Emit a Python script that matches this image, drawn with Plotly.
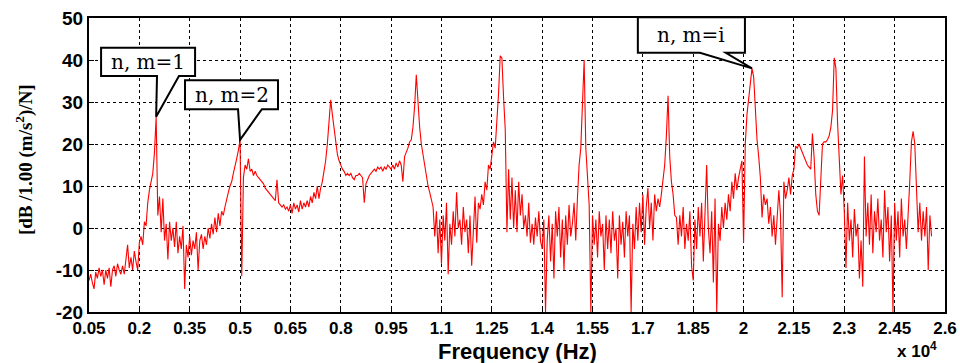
import numpy as np
import plotly.graph_objects as go

# Frequency grid (x 10^4 Hz): uniform sampling
freq_start = 0.05
freq_step = 0.005

# Amplitude [dB], rows of 10 samples (0.05 x 10^4 Hz per row)
amp_band_a = [  # 0.05 - 0.545
    -12.5, -11, -13, -14.5, -10.5, -12, -9.5, -11.5, -10, -13.5,
    -10, -12, -9.5, -14, -10, -9, -11.5, -8.5, -10, -11,
    -9, -11, -7.5, -4, -9.5, -7, -10, -5.5, -8, -10,
    -3.5, -2, -4, 1.5, 0.5, 6, 9, 11, 13, 18,
    26.5, 3, 7.5, -1, 7, -3, 1, -7.5, 1.5, -3,
    0, -4.5, 1.5, -6, -2, -5, 0.5, -14.5, -4, -7,
    -2, -6.5, -3, -5, -1, -10, -3, -1.5, -5, -2,
    -4, 0, -2.5, 1, -1.5, 2.5, -1, 3.5, 0.5, 4,
    3, 5, 7, 8.5, 10, 11, 13, 14.5, 16.5, 18.5,
    21, -11.5, 12, 15, 14, 16.5, 13.5, 14, 12.5, 13.5,
]
amp_band_b = [  # 0.55 - 1.045
    12.5, 12, 11.5, 11, 10.5, 9.5, 9, 8.5, 8, 7.5,
    7, 6.5, 11.5, 6, 5.5, 5, 5.5, 4.5, 5, 4,
    5.5, 3.5, 6, 4.5, 5.5, 3.8, 6.5, 4.5, 6, 5,
    6.5, 5, 7.5, 6, 8.5, 7, 10, 7, 9.5, 11,
    13.5, 16, 20, 25, 30.5, 27, 24, 20, 17.5, 16,
    15, 14, 13.5, 12.5, 13, 12.5, 13, 12, 11.5, 12.5,
    12.5, 13, 12.5, 12, 6, 10.5, 11.5, 12.5, 13, 13.5,
    14, 13.5, 14.5, 14, 14.5, 13.5, 14.5, 14, 15, 14.5,
    14, 15, 14, 15.5, 14.5, 16, 15, 11, 17, 18,
    19, 20.5, 21, 24, 29, 36.5, 30, 24, 20, 17.5,
]
amp_band_c = [  # 1.05 - 1.545
    14, 12, 10, 8.5, 7, 5, -2, 4, -6, 2,
    -8.5, 3, -3, 6, -11, 1, -4, 4, -2, 8.5,
    0, 2, -4, 5, -1, 2, -6, 3, -9, 1,
    7.5, -3.5, 6, 4.5, 8, 5.5, 11, 9, 15, 14,
    17.5, 20.5, 19, 25, 32, 41, 40.5, 31, 23.5, -1,
    14, 2, 12, 0, 9, -1, 11, 3, 8, 0,
    3, -2, 6, -3.5, 1, -4, 2.5, -2, 4, -3,
    -5, 2, -20, -3, 3, -8, 1, -12, 4, -2,
    5, -7, 2, -10, 3, -4, 5.5, -2, 1, 6,
    -3, 7, 15, 19, 31, 40, 19, 11, 5.5, -20,
]
amp_band_d = [  # 1.55 - 2.045
    3, -4, 2, -7, 4, -2, 1, -10, 3, -5,
    2, -6, 4, -3, 0, -12, 3, -4, 1.5, -7,
    4, -2, 3, -20, 1, -5, 5, -3, 6, -1,
    8, -4, 5, 9.5, 0, 6, -3, 8, 4, 7,
    5, 8, 12, 15, 22, 31.5, 17, 11, 8, 3,
    2.5, -4, 3, -2, 5, -5, 1, -3, 4, -9,
    -12.5, 2, -5, 5, -2, 6, -8, 3, 15, 0,
    -6, 4, -13, 7, -20, 1, -3, 5, 0, 6,
    2, 8, 4, 11, 7, 13, 9, 12, 14.5, 16,
    -3.5, 20, 27, 31, 35, 38, 36, 27, 21, 17,
]
amp_band_e = [  # 2.05 - 2.56
    12, 2.5, 8, 5.5, 7, 1, 5, -2, 3, -4,
    4, 9, 3, -16.5, 11, 7, 9, 12, 8, 12.5,
    14, 19.5, 19, 20, 19, 18, 17, 16, 15, 14.5,
    14, 22.5, 17, 8, 4, 3, 13, 20, 20.5, 20.5,
    21, 22, 24, 28, 40.5, 38, 25, 15.5, 8, 12.5,
    4, -9.5, 6, -3, 2, -7, 4.5, -2, 1, -12,
    -3, -14, 17, -2, 6, -4, 8, -6, 4, -1,
    7, -3, 2, -7, 9, -1, 5, -8, 3, -20,
    6, -3, 4, -7, 7, -2, 2, -5, 5, 11,
    20.5, 23, 20, 9.5, -1, 6, -3, 4, -2, 5,
    -10, 3, -2,
]

x_tick_vals = [0.05, 0.2, 0.35, 0.5, 0.65, 0.8, 0.95, 1.1, 1.25, 1.4, 1.55, 1.7,
               1.85, 2.0, 2.15, 2.3, 2.45, 2.6]
x_tick_text = ["0.05", "0.2", "0.35", "0.5", "0.65", "0.8", "0.95", "1.1", "1.25", "1.4",
               "1.55", "1.7", "1.85", "2", "2.15", "2.3", "2.45", "2.6"]
y_tick_vals = [-20, -10, 0, 10, 20, 30, 40, 50]
y_tick_text = ["-20", "-10", "0", "10", "20", "30", "40", "50"]

# Callouts: label, frequency of the marked peak
callout_labels = ["n, m=1", "n, m=2", "n, m=i"]
callout_freqs = [0.25, 0.5, 2.025]

amp = np.array(amp_band_a + amp_band_b + amp_band_c + amp_band_d + amp_band_e, dtype=float)
freq = freq_start + freq_step * np.arange(len(amp))

fig = go.Figure()
fig.add_trace(go.Scatter(x=freq, y=amp, mode="lines",
                         line=dict(color="#ff0000", width=1.1), showlegend=False,
                         hoverinfo="skip"))

# callout box geometry (data units): box x0, x1, y_bottom, y_top, tail-left x, tail-right x
box_geom = [
    (0.086, 0.366, 36.2, 42.9, 0.2526, 0.318),
    (0.336, 0.613, 28.3, 35.2, 0.494, 0.565),
    (1.685, 2.004, 41.7, 50.2, 1.870, 1.947),
]
shapes = []
annotations = []
for lab, f, g in zip(callout_labels, callout_freqs, box_geom):
    idx = int(np.argmin(np.abs(freq - f)))
    tip_x, tip_y = freq[idx], amp[idx]
    x0, x1, yb, yt, tl, tr = g
    path = (f"M {x0},{yt} L {x1},{yt} L {x1},{yb} L {tr},{yb} L {tip_x},{tip_y} "
            f"L {tl},{yb} L {x0},{yb} Z")
    shapes.append(dict(type="path", path=path, xref="x", yref="y",
                       fillcolor="white", line=dict(color="black", width=2), layer="above"))
    annotations.append(dict(x=(x0 + x1) / 2, y=(yb + yt) / 2, xref="x", yref="y",
                            xanchor="center", yanchor="middle",
                            text=lab, showarrow=False,
                            font=dict(family="DejaVu Serif", size=20, color="black")))

annotations.append(dict(x=-0.076, y=0.52, xref="paper", yref="paper", textangle=-90,
                        xanchor="center", yanchor="middle",
                        text="<b>[dB /1.00 (m/s<sup>2</sup>)/N]</b>", showarrow=False,
                        font=dict(family="Liberation Serif, Times New Roman", size=19,
                                  color="black")))
annotations.append(dict(x=0.5, y=-0.136, xref="paper", yref="paper",
                        xanchor="center", yanchor="middle",
                        text="<b>Frequency (Hz)</b>", showarrow=False,
                        font=dict(family="Liberation Sans, Arial", size=22, color="black")))
annotations.append(dict(x=0.967, y=-0.128, xref="paper", yref="paper",
                        xanchor="center", yanchor="middle",
                        text="<b>x 10<sup>4</sup></b>", showarrow=False,
                        font=dict(family="Liberation Sans, Arial", size=17, color="black")))

fig.update_layout(
    width=960, height=363,
    margin=dict(l=89, r=15, t=18, b=51, autoexpand=False),
    paper_bgcolor="white", plot_bgcolor="white",
    shapes=shapes, annotations=annotations,
    xaxis=dict(range=[0.05, 2.6], tickvals=x_tick_vals,
               ticktext=[f"<b>{t}</b>" for t in x_tick_text],
               tickfont=dict(family="Liberation Sans, Arial", size=17, color="black"),
               showgrid=True, gridcolor="black", gridwidth=1,
               griddash="3px,3px", showline=True, linecolor="black", linewidth=2,
               mirror=True, ticks="inside", ticklen=5, tickcolor="black",
               zeroline=False, automargin=False),
    yaxis=dict(range=[-20, 50], tickvals=y_tick_vals,
               ticktext=[f"<b>{t}</b>" for t in y_tick_text],
               tickfont=dict(family="Liberation Sans, Arial", size=19, color="black"),
               showgrid=True, gridcolor="black", gridwidth=1, griddash="3px,3px",
               showline=True, linecolor="black", linewidth=2, mirror=True,
               ticks="inside", ticklen=5, tickcolor="black", zeroline=False,
               automargin=False),
)

fig.write_html("out.html", config={"displayModeBar": False},
               post_script="document.body.style.margin='0px';document.body.style.overflow='hidden';")
